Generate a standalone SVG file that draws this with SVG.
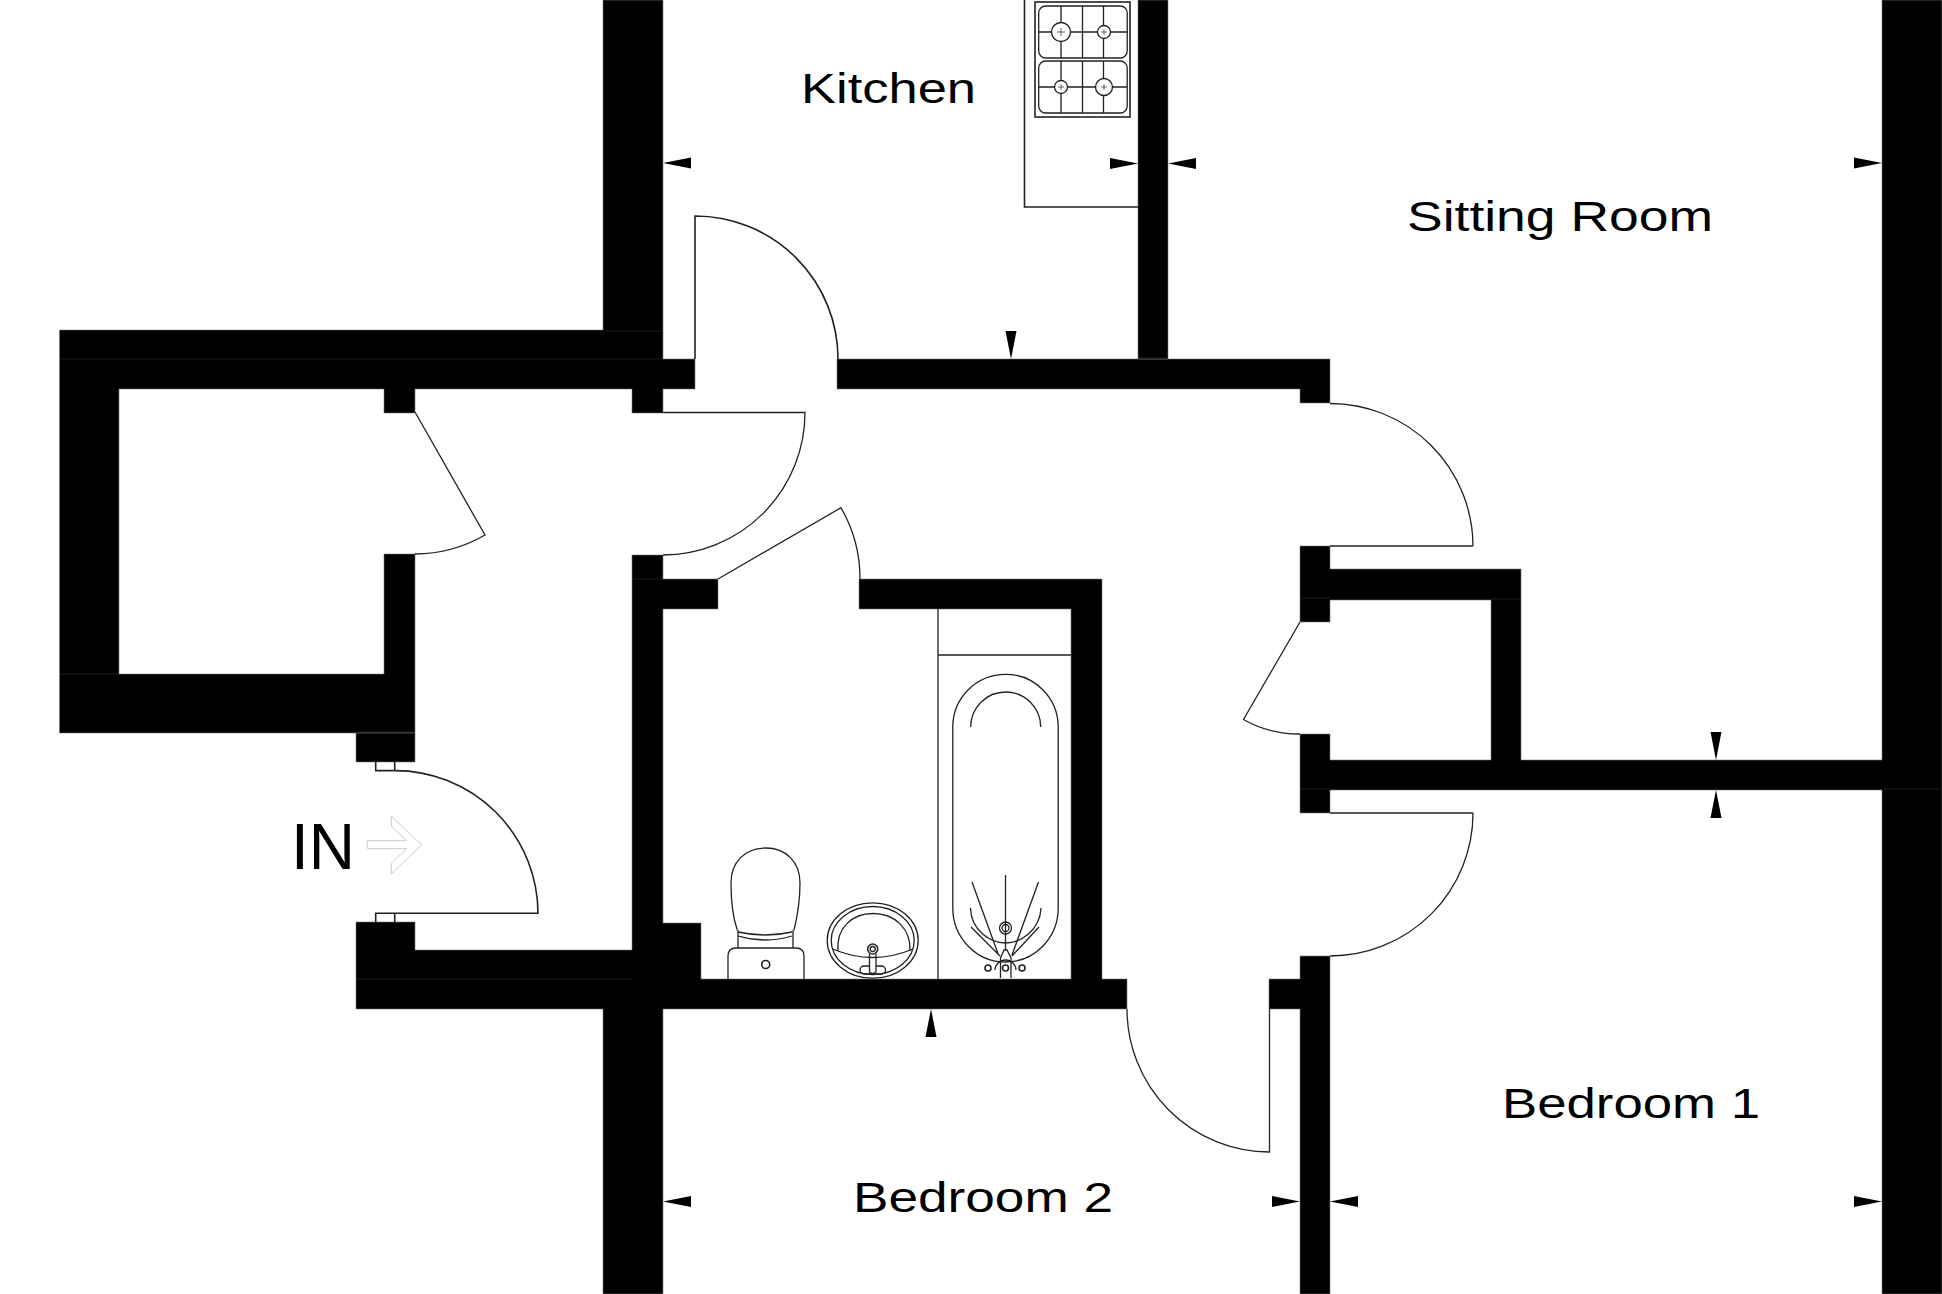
<svg xmlns="http://www.w3.org/2000/svg" width="1942" height="1294" viewBox="0 0 1942 1294">
<style>
.w{fill:#000;stroke:#777;stroke-width:.6}
.l{fill:none;stroke:#222;stroke-width:1.3}
.f{fill:none;stroke:#222;stroke-width:1.6}
.s{fill:none;stroke:#2a2a2a;stroke-width:.7}
.t{fill:#000;font-family:"Liberation Sans",Arial,sans-serif;font-size:43px}
</style>
<defs>
<polygon id="tick" points="0,0 -28,-5.5 -28,5.5" fill="#000"/>
</defs>
<rect width="1942" height="1294" fill="#fff"/>
<g id="walls">
<path class="w" d="M603,0H663V359H695V389H663V413H632V389H415V413H384V389H119V674H384V554H415V733H59.500V330H603Z"/>
<path class="w" d="M356,733H415V762H356Z"/>
<path class="w" d="M632,555H663V579H718V609H663V923H701V979H1071V609H859V579H1102V979H1127V1009H663V1294H603V1009H356V922H415V950H632Z"/>
<path class="w" d="M837,359H1330V403H1300V389H837Z"/>
<path class="w" d="M1138,0H1168V359H1138Z"/>
<path class="w" d="M1300,546H1330V569H1521V760H1882V0H1942V1294H1882V790H1330V813H1300V734H1330V760H1491V600H1330V622H1300Z"/>
<path class="w" d="M1300,956H1330V1294H1300V1009H1269V979H1300Z"/>
<path class="s" d="M60,359H663M603,331H663M60,674H119M356,732H415M356,979H632M632,579H663M1300,598H1330M1491,599H1521M1300,789H1330M1884,789H1940M1138,358H1168"/>
</g>
<g id="doors">
<path class="f" d="M695,359V216A143,143 0 0 1 838,359"/>
<path class="l" d="M663,412.500H805A142.500,142.500 0 0 1 663,555"/>
<path class="l" d="M718,579L841,507.700A142,142 0 0 1 860,579"/>
<path class="l" d="M415,412L485,535A142,142 0 0 1 415,554"/>
<path class="f" d="M375.700,762V770.600H394.700M394.700,762V770.600"/>
<path class="f" d="M394.700,770.600A143,143 0 0 1 538,913.300H375.700V922M394.700,913.300V922"/>
<path class="l" d="M1330,403.500A143,143 0 0 1 1473,546"/>
<path class="f" d="M1330,546H1473"/>
<path class="l" d="M1300,622L1243.500,719.500A112,112 0 0 0 1300,734"/>
<path class="f" d="M1330,813H1473"/>
<path class="l" d="M1473,813A143,143 0 0 1 1330,956"/>
<path class="l" d="M1127,1009A143,143 0 0 0 1269.500,1152V1009"/>
</g>
<g id="kitchen-units">
<path class="f" d="M1024.500,0V207H1138"/>
<rect class="f" x="1035" y="2" width="95" height="115"/>
<rect class="l" x="1038.700" y="6" width="88.500" height="52" rx="7"/>
<rect class="l" x="1038.700" y="61" width="88.500" height="52" rx="7"/>
<path class="l" d="M1061,6V58M1082.500,6V58M1103.500,6V58M1038.700,32H1127.200M1061,61V113M1082.500,61V113M1103.500,61V113M1038.700,87H1127.200"/>
<circle cx="1061" cy="32" r="9.500" fill="#fff" stroke="#222" stroke-width="1.300"/>
<circle cx="1104" cy="32" r="6.500" fill="#fff" stroke="#222" stroke-width="1.300"/>
<circle cx="1061" cy="87" r="6.500" fill="#fff" stroke="#222" stroke-width="1.300"/>
<circle cx="1104" cy="87" r="8.500" fill="#fff" stroke="#222" stroke-width="1.300"/>
<path class="s" d="M1061,28V36M1057,32H1065M1104,29V35M1101,32H1107M1061,84V90M1058,87H1064M1104,84V90M1101,87H1107"/>
</g>
<g id="bath">
<path class="l" d="M938,609V979M938,655H1071"/>
<path class="l" d="M952.800,908V727A52.700,52.700 0 0 1 1058.200,727V908A52.700,54 0 0 1 952.800,908Z"/>
<path class="l" d="M970.700,727A35,35 0 0 1 1040.700,727"/>
<path class="l" d="M970.500,908C971,930 990,943 1005.500,943C1021,943 1040,930 1041,908"/>
<path class="l" d="M1005.500,875V950M972,882L998.500,955M1038.500,882L1012,955M971,927L1000,956M1039,927L1012,956"/>
<circle class="l" cx="1005.500" cy="928" r="6"/>
<circle class="l" cx="1005.500" cy="928" r="3.500"/>
<circle class="f" cx="988" cy="968" r="3"/>
<circle class="f" cx="1022" cy="968" r="3"/>
<circle class="f" cx="1005.500" cy="968" r="3"/>
<path class="l" d="M1000.500,978V958L1004,950H1007L1011,958V978M995,970A10.500,10 0 0 1 1016,970"/>
</g>
<g id="toilet">
<path class="l" d="M737.300,930C733,918 731,905 731,883C731,862 745,848 765.700,848C786,848 800,862 800,883C800,905 797,918 794,930"/>
<path class="l" d="M738,932Q765.700,938 792,932M738,936Q765.700,944 792,936M738,930V948M793,930V948"/>
<path class="l" d="M728,979V956Q728,948 736,948H796Q804,948 804,956V979"/>
<circle class="f" cx="765.700" cy="964.500" r="4"/>
</g>
<g id="basin">
<ellipse class="l" cx="872.700" cy="940.500" rx="45.500" ry="37.700"/>
<ellipse class="l" cx="872.700" cy="940.500" rx="41.500" ry="34"/>
<path class="l" d="M838,951C836,928 852,913.500 873,913.500C894,913.500 911,928 910,951"/>
<path class="l" d="M832.700,949Q872.700,966 913,949"/>
<circle class="f" cx="872.700" cy="949" r="5"/>
<circle class="l" cx="872.700" cy="949" r="2.500"/>
<path class="l" d="M869.500,954V966M876,954V966"/>
<path class="l" d="M864,966H869.500M876,966H881.500A4,4 0 0 1 881.500,974H864A4,4 0 0 1 864,966"/>
<path class="l" d="M869.500,966V972Q872.700,975 876,972V966"/>
</g>
<g id="dimension-ticks">
<use href="#tick" transform="translate(663,163) rotate(180)"/>
<use href="#tick" transform="translate(1138,163.500)"/>
<use href="#tick" transform="translate(1168,163.500) rotate(180)"/>
<use href="#tick" transform="translate(1882,163)"/>
<use href="#tick" transform="translate(1011,359) rotate(90)"/>
<use href="#tick" transform="translate(1716,760) rotate(90)"/>
<use href="#tick" transform="translate(1716,790) rotate(-90)"/>
<use href="#tick" transform="translate(931,1009) rotate(-90)"/>
<use href="#tick" transform="translate(663,1201.500) rotate(180)"/>
<use href="#tick" transform="translate(1300,1201.500)"/>
<use href="#tick" transform="translate(1330,1201.500) rotate(180)"/>
<use href="#tick" transform="translate(1882,1201.500)"/>
</g>
<g id="entry-arrow">
<path fill="none" stroke="#ccc" stroke-width="1" d="M367.300,840.700H406.700L391.700,826.700L391,816L421.700,845L391,874L391.700,863L406.700,848.700H367.300Z"/>
</g>
<g id="labels">
<text class="t" x="801" y="103" textLength="175" lengthAdjust="spacingAndGlyphs">Kitchen</text>
<text class="t" x="1407" y="231" textLength="306" lengthAdjust="spacingAndGlyphs">Sitting Room</text>
<text class="t" x="1502" y="1118" textLength="258" lengthAdjust="spacingAndGlyphs">Bedroom 1</text>
<text class="t" x="853" y="1212" textLength="260" lengthAdjust="spacingAndGlyphs">Bedroom 2</text>
<text class="t" x="291" y="869" style="font-size:64px">IN</text>
</g>
</svg>
